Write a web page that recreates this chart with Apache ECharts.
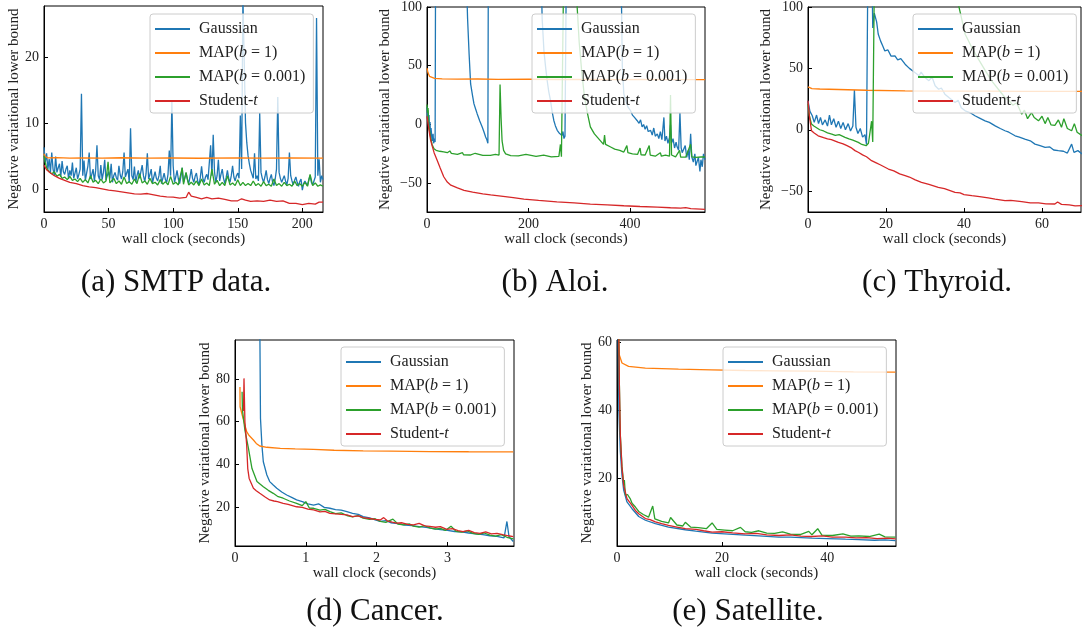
<!DOCTYPE html>
<html><head><meta charset="utf-8">
<script src="https://cdn.jsdelivr.net/npm/echarts@6/dist/echarts.min.js"></script>
<style>html,body{margin:0;padding:0;background:#fff}#c{width:1082px;height:635px}</style>
</head><body><div id="c"></div>
<script>
// ---------- Data ----------
const seriesNames = ['Gaussian', 'MAP(b = 1)', 'MAP(b = 0.001)', 'Student-t'];

// (a) SMTP data
const smtpXTicks = [0, 50, 100, 150, 200];
const smtpYTicks = [0, 10, 20];
const smtpGauss = [[0,6.3],[1,4.0],[2,5.4],[3,3.0],[4,4.5],[5,2.5],[6,5.5],[7,3.0],[8,2.0],[9,4.9],[10,2.5],[11,3.2],[12,3.8],[13,1.8],[14,4.2],[15,2.6],[16,2.2],[17,3.0],[18,3.5],[19,1.5],[20,2.8],[21,2.0],[22,4.0],[23,1.6],[24,2.4],[25,3.2],[26,1.5],[27,2.2],[28,3.0],[29,14.4],[30,2.0],[31,4.3],[32,1.3],[33,2.4],[34,3.5],[35,5.5],[36,1.5],[37,2.2],[38,3.0],[39,1.2],[40,2.8],[41,6.6],[42,2.0],[43,1.4],[44,3.6],[45,1.4],[46,2.5],[47,4.4],[48,1.3],[49,2.0],[50,2.6],[51,1.6],[52,3.8],[53,1.0],[54,2.0],[55,2.5],[56,1.7],[57,1.3],[58,3.5],[59,2.1],[60,1.5],[61,2.6],[62,5.5],[63,1.8],[64,2.4],[65,3.0],[66,1.0],[67,9.2],[68,2.0],[69,1.4],[70,3.4],[71,1.0],[72,2.0],[73,2.8],[74,1.6],[75,1.3],[76,3.6],[77,2.0],[78,1.1],[79,2.3],[80,5.4],[81,1.5],[82,2.2],[83,3.0],[84,0.9],[85,1.8],[86,2.6],[87,1.6],[88,1.2],[89,2.0],[90,3.5],[91,0.8],[92,1.6],[93,2.4],[94,1.4],[95,1.0],[96,2.2],[97,5.8],[98,2.0],[99,13.2],[100,3.5],[101,1.0],[102,1.8],[103,2.8],[104,1.5],[105,0.8],[106,1.9],[107,3.2],[108,1.0],[109,1.7],[110,2.4],[111,1.4],[112,0.8],[113,1.8],[114,3.0],[115,1.6],[116,1.0],[117,1.9],[118,2.4],[119,1.2],[120,0.6],[121,1.7],[122,3.4],[123,1.6],[124,1.0],[125,1.8],[126,2.2],[127,1.4],[128,1.2],[129,6.6],[130,2.0],[131,8.2],[132,2.6],[133,1.0],[134,2.0],[135,4.4],[136,1.2],[137,2.2],[138,3.0],[139,1.6],[140,0.8],[141,1.7],[142,2.8],[143,1.6],[144,1.0],[145,2.0],[146,3.5],[147,1.8],[148,1.2],[149,2.0],[150,2.4],[151,1.6],[152,11.1],[153,3.0],[154,29],[155,29],[156,10],[157,7],[158,5],[159,3.8],[160,2.8],[161,2.2],[162,1.6],[163,5.4],[164,1.5],[165,2.0],[166,1.2],[167,11.5],[168,2.5],[169,1.6],[170,1.0],[171,1.8],[172,2.8],[173,1.4],[174,0.8],[175,1.6],[176,2.2],[177,1.0],[178,0.5],[179,1.5],[180,3.0],[181,13.9],[182,2.5],[183,1.6],[184,1.0],[185,1.5],[186,2.0],[187,1.2],[188,0.6],[189,1.6],[190,5.5],[191,2.0],[192,1.2],[193,0.6],[194,1.3],[195,1.8],[196,1.0],[197,0.4],[198,1.1],[199,1.5],[200,-0.2],[201,0.8],[202,1.2],[203,0.9],[204,0.5],[205,1.4],[206,2.0],[207,1.0],[208,0.6],[209,1.2],[210,1.8],[211,25.9],[212,2.0],[213,4.5],[214,1.0],[215,2.0],[216,1.4]];
const smtpMap1 = [[0,5.3],[1,4.9],[3,4.7],[10,4.75],[20,4.65],[30,4.7],[45,4.65],[60,4.72],[80,4.65],[100,4.68],[120,4.64],[150,4.7],[170,4.65],[190,4.68],[216,4.65]];
const smtpMap001 = [[0,5.0],[1,4.0],[2,3.2],[4,2.6],[6,2.3],[8,2.6],[10,1.9],[12,2.2],[14,1.6],[16,1.8],[18,1.4],[20,1.9],[22,1.3],[24,1.5],[26,1.1],[28,1.6],[30,1.0],[32,1.4],[34,0.9],[36,2.0],[38,1.0],[40,1.3],[42,0.8],[44,1.5],[46,0.9],[48,1.2],[49.6,4.1],[51,0.9],[52,1.0],[54,1.6],[56,0.8],[58,1.2],[60,0.7],[62,1.8],[64,0.8],[66,1.1],[68,0.7],[70,1.5],[72,0.8],[74,2.3],[76,0.9],[78,1.2],[80,0.7],[82,1.6],[84,0.8],[86,1.0],[88,0.6],[90,1.4],[92,0.7],[94,1.1],[96,0.6],[98,1.9],[100,0.7],[102,1.0],[104,0.6],[107,3.2],[108,0.7],[110,2.5],[112,0.6],[114,1.0],[116,0.6],[118,1.2],[120,0.5],[122,1.5],[124,0.6],[126,0.9],[128,0.5],[130,3.0],[132,0.7],[134,1.3],[136,0.5],[138,1.0],[140,0.5],[142,2.0],[144,0.6],[146,0.9],[148,0.5],[150,1.4],[152,0.5],[154,1.0],[156,0.5],[158,0.8],[160,0.5],[162,1.2],[164,0.5],[166,0.8],[168,0.4],[170,1.1],[172,0.5],[174,0.7],[176,0.4],[178,1.5],[180,0.5],[182,0.8],[184,0.4],[186,1.0],[188,0.5],[190,0.7],[192,0.4],[194,1.2],[196,0.5],[198,0.8],[200,0.4],[202,1.0],[204,0.4],[206,2.2],[208,0.5],[210,0.9],[212,0.4],[214,0.6],[216,0.4]];
const smtpStudent = [[0,3.6],[2,2.9],[5,2.4],[8,2.0],[12,1.6],[16,1.3],[20,1.0],[25,0.8],[30,0.5],[35,0.3],[40,0.2],[45,0.0],[50,-0.2],[55,-0.3],[60,-0.45],[65,-0.6],[70,-0.75],[75,-0.8],[80,-0.7],[85,-0.9],[90,-1.1],[95,-1.2],[100,-1.25],[105,-1.4],[110,-1.3],[112,-0.5],[114,-1.1],[118,-1.3],[122,-1.5],[126,-1.3],[130,-1.5],[135,-1.4],[140,-1.6],[145,-1.8],[150,-1.8],[153,-1.5],[156,-1.7],[160,-1.9],[165,-1.8],[170,-1.9],[175,-1.7],[180,-1.9],[185,-1.8],[190,-2.2],[195,-2.2],[200,-2.4],[205,-2.2],[210,-2.3],[213,-2.0],[216,-2.0]];

// (b) Aloi
const aloiXTicks = [0, 200, 400];
const aloiYTicks = [-50, 0, 50, 100];
const aloiGauss = [[0,15],[1,5],[2,12],[3,0],[4,8],[5,-5],[6,2],[7,-10],[8,-3],[10,-14],[12,-8],[13,-16],[15,-12],[16,-15],[17,150],[76,150],[80,90],[83,60],[86,34.5],[90,24],[92.6,17.5],[96,13],[99,9],[104,3],[109,-2.3],[112,-6],[115.6,-10.7],[118,-13],[120,-16],[121,150],[224,150],[227,90],[230.5,62.7],[234,48],[237,37],[240,28],[243.6,20],[247,10],[250,3.4],[253,-1],[256.7,-5],[260,-7],[263,-8],[266,-9.5],[268,-6],[270,-12],[272,-10],[275,150],[382,150],[385,50],[388,26],[392,20],[396,15],[401,11.9],[405,8],[409,6],[414,3.4],[418,1],[421,4],[424,-2],[427,0],[430,-4],[433,-1],[436,-6],[440.8,-5],[444,-9],[447,-3],[450,-10],[454,-8],[457,-12],[460,-6],[463,-13],[467,6],[469,-14],[472,-10],[475,-16],[478,-11],[480,-0.3],[482,-16],[485,-12],[488,-20],[491,-15],[493,-19],[496,-22],[498.6,10],[501,-20],[503,-24],[506,-24.9],[509,-18],[512,-28],[515,-22],[517,-30],[519.7,-8],[522,-27.7],[525,-32],[528,-25],[530,-35],[532.8,-33.3],[535,-28],[538,-40],[540,-30],[542.6,-36],[545,-25],[548,-30]];
const aloiMap1 = [[0,48],[2,44],[5,41],[8,39.8],[15,39.2],[30,38.9],[60,38.6],[100,38.7],[140,38.4],[200,38.5],[260,38.3],[320,38.4],[380,38.2],[440,38.3],[500,38.1],[548,38.2]];
const aloiMap001 = [[0,17],[1,10],[2,14],[3,4],[4,-2],[6,-8],[8,-13],[10,-17],[13.8,-20.6],[18,-22],[25,-22.8],[33,-23.4],[40,-24],[45,-22.5],[48,-24.6],[60,-25.4],[70,-24],[72,-25.8],[85,-26],[95,-24.5],[97,-26.2],[110,-26.3],[125,-26.3],[135,-25.5],[142,-26],[144,34],[146,6],[148,-14],[151,-22],[155,-25],[165,-26.5],[180,-26.8],[195,-25.5],[197,-27],[215,-27.2],[230,-26],[232,-27.5],[245,-27.5],[260,-27.2],[263,-17],[265,-27.5],[268,-27],[270,150],[290,150],[296,100],[300,70],[305,45],[310,25],[316,10],[322,-2],[330,-8],[336,-11],[342,-14],[348,-17],[350,-9],[352,-17],[362,-19.2],[370,-21],[380,-22],[388,-23.5],[394,-18],[396,-24],[405,-25],[415,-25.5],[420,-20],[422,-25.8],[430,-26],[438,-18],[440,-26],[450,-27],[460,-24],[462,-27],[470,-26],[478,-27],[480,25],[482,-26],[490,-27.5],[498,-22],[500,-27.8],[510,-27.8],[519.6,-16.8],[522,-27.5],[530,-28],[540,-27.7],[548,-27.7]];
const aloiStudent = [[0,7],[2,1],[4,-5],[7,-13],[10,-18],[14,-24],[20,-30.5],[26,-37],[33,-44.5],[40,-49],[47,-51.7],[60,-54],[73,-56],[90,-57.6],[110,-59],[125.5,-60],[150,-61.2],[170,-62.3],[191,-63.5],[220,-64.6],[256,-65.8],[290,-66.8],[322,-67.8],[355,-68.5],[388,-69.2],[420,-69.8],[454,-70.3],[480,-70.9],[500,-71.2],[510,-70.8],[520,-71.6],[539,-72],[548,-72.3]];

// (c) Thyroid
const thyXTicks = [0, 20, 40, 60];
const thyYTicks = [-50, 0, 50, 100];
const thyGauss = [[0,23.6],[0.5,15],[1.1,11.4],[1.6,6],[2.2,12],[2.7,5],[3.2,10],[3.7,4],[4.4,8],[5,3],[5.5,12],[6,4],[6.6,9],[7.2,2],[7.8,7],[8.4,1],[9,6],[9.6,0],[10.3,5],[10.9,-1],[11.5,3],[11.9,32.3],[12.3,2],[12.8,-3],[13.4,1],[14,-6],[14.6,-4],[15,-12],[15.4,150],[16.3,150],[16.6,83],[17,95],[17.6,87.9],[18,78],[18.6,72.4],[19.2,68],[19.7,64.2],[20.5,65],[21.3,60],[22.3,60.2],[23,57],[23.8,58],[24.9,53.4],[26,50],[27.4,46.6],[28.5,44],[29,47],[30,42.5],[31,40],[31.8,43],[32.6,35.8],[33.5,33],[34.2,34],[35.1,29],[36.2,26],[37.7,22.2],[38.5,24],[39.3,18],[40.3,15.4],[41.5,14],[42.8,11.4],[44,9.5],[45.4,7.3],[46.5,6],[48,3.2],[49.3,1],[50.5,-0.8],[51.5,-2],[53.1,-4.9],[54.2,-6],[55.6,-7.6],[57,-9],[58.2,-11.7],[59.5,-13],[60.8,-14.4],[62,-14],[63,-16.5],[64.2,-17],[65.5,-17.5],[66.5,-19],[67.6,-11.7],[68.2,-18.4],[69.2,-17],[70.3,-19.8]];
const thyMap1 = [[0,35],[0.5,34],[1,33.5],[3,33.2],[7.8,32.8],[15,32.2],[24.9,31.7],[35,31.5],[45,31.4],[55,31.3],[70.3,31.2]];
const thyMap001 = [[0,21],[0.3,12],[0.9,4.6],[1.5,3],[2,1.9],[3,0],[4,-1],[5,-2.5],[6.1,-3.5],[7,-4.5],[8,-4],[9.5,-6.2],[10.5,-7.5],[11.5,-8.5],[12.9,-10.3],[13.8,-12],[14.9,-13],[15.5,-11],[15.8,-12.5],[16.3,7],[16.6,-10],[17.1,150],[36.8,150],[38,110],[40.3,77.8],[42,67],[43.7,57.5],[45.5,48],[47.1,39.8],[48.8,33],[50.5,26.3],[51.5,24],[52.5,20],[53.5,22],[54.8,12.7],[55.5,16],[56.3,9],[57.3,14],[58,10],[59.1,7.3],[60,11],[60.8,5],[61.5,10],[62.3,4],[63.3,3.5],[64.2,8],[65,2],[65.6,9],[66.5,1],[67.6,-0.8],[68.3,5],[69,-2],[70.3,-4.9]];
const thyStudent = [[0,23.6],[0.4,10],[0.9,-0.8],[1.5,-2.5],[2.6,-4.9],[4,-6.5],[5,-7.5],[6,-8],[7.8,-10.3],[9,-11.5],[10,-13],[11,-14.5],[12.05,-17],[13,-18.5],[14,-20.5],[15,-22],[16.3,-25.2],[17.5,-27],[18.5,-28.5],[20.6,-32],[22,-33.5],[23.5,-36],[24.9,-37.4],[26,-38.5],[27.5,-40.8],[29.1,-42.8],[31,-44.5],[33.4,-46.9],[35,-48],[37.7,-51],[39,-51.5],[40,-52.8],[42,-53.7],[44,-54.5],[46.2,-55.5],[48,-56.5],[50.5,-57.7],[52,-57.5],[54.8,-58.5],[57,-59.5],[59.1,-59.6],[61,-60.3],[63.3,-60.5],[64,-58.8],[65,-60.8],[67,-61.2],[68.5,-62],[70.3,-61.8]];

// (d) Cancer
const canXTicks = [0, 1, 2, 3];
const canYTicks = [20, 40, 60, 80];
const canGauss = [[0.33,200],[0.36,61.5],[0.38,49],[0.4,41.2],[0.45,35],[0.49,31.9],[0.54,30.3],[0.59,28.8],[0.66,27],[0.73,25.6],[0.8,24.5],[0.87,23.3],[0.95,22.5],[1.03,21.5],[1.11,20.9],[1.18,21.5],[1.26,19.8],[1.34,19.4],[1.42,18.8],[1.5,18.5],[1.58,17.8],[1.66,17],[1.74,16.5],[1.81,15.5],[1.9,14.9],[1.98,14],[2.05,13.2],[2.13,13.6],[2.2,12.6],[2.3,12.2],[2.4,11.5],[2.5,11.3],[2.6,10.8],[2.7,10.4],[2.8,9.8],[2.9,9.4],[3.0,9],[3.1,8.5],[3.2,8.3],[3.3,7.8],[3.4,7.4],[3.5,7],[3.6,6.5],[3.7,6.2],[3.8,5.5],[3.84,13.2],[3.87,6],[3.93,3.8]];
const canMap1 = [[0.07,76.3],[0.072,67],[0.1,66.5],[0.11,62],[0.165,55.3],[0.2,53.5],[0.26,51.4],[0.3,49.8],[0.35,48.6],[0.45,48],[0.64,47.5],[0.85,47.2],[1.11,47],[1.4,46.6],[1.81,46.3],[2.2,46.2],[2.75,46],[3.3,45.9],[3.93,45.8]];
const canMap001 = [[0.1,74],[0.105,65.5],[0.14,56],[0.19,47.5],[0.24,38],[0.31,31.9],[0.4,29.5],[0.47,27.8],[0.54,26.4],[0.6,25],[0.68,24.1],[0.77,22.8],[0.87,21.7],[0.95,20.6],[1.0,22.5],[1.05,19.5],[1.11,19.4],[1.2,18.5],[1.27,18.9],[1.34,17.8],[1.42,16.9],[1.5,17.2],[1.58,16],[1.66,15.4],[1.74,15.9],[1.81,14.8],[1.9,14.2],[1.98,14.5],[2.05,13.2],[2.13,12.8],[2.23,14.3],[2.3,12],[2.38,11.6],[2.46,12.1],[2.52,11],[2.6,10.5],[2.68,11.2],[2.75,10.2],[2.83,9.6],[2.9,10],[2.97,9],[3.05,11],[3.12,8.6],[3.2,8.2],[3.28,8.8],[3.36,7.6],[3.44,7.1],[3.52,7.8],[3.6,6.8],[3.68,6.3],[3.76,7],[3.84,5.8],[3.93,5]];
const canStudent = [[0.12,65],[0.127,80.3],[0.14,60],[0.165,49],[0.18,38],[0.2,33.4],[0.26,28.8],[0.3,27.6],[0.35,26.4],[0.42,24.8],[0.49,23.3],[0.55,22.8],[0.6,22.5],[0.68,21.7],[0.75,21.2],[0.87,20.1],[0.95,19.8],[1.03,19],[1.11,18.6],[1.2,17.7],[1.27,17.9],[1.34,17],[1.42,16.8],[1.5,16.5],[1.58,16.3],[1.66,15.5],[1.74,15.8],[1.81,15],[1.9,14.6],[1.98,14.2],[2.05,13.9],[2.1,15],[2.15,13.5],[2.22,12.9],[2.28,12.4],[2.36,12.6],[2.44,11.8],[2.52,11.6],[2.6,12.3],[2.68,11.1],[2.75,10.9],[2.83,10.5],[2.9,10.8],[2.99,9.5],[3.07,9.8],[3.15,8.9],[3.22,8.4],[3.3,9],[3.38,8],[3.46,7.6],[3.54,8.3],[3.62,7.4],[3.7,7.6],[3.78,7],[3.86,6.5],[3.93,6.1]];

// (e) Satellite
const satXTicks = [0, 20, 40];
const satYTicks = [20, 40, 60];
const satGauss = [[0.19,65],[0.35,40],[0.63,28],[0.95,20.9],[1.27,16.5],[1.9,13],[2.86,11],[4.13,8.7],[5.4,7.6],[7.3,6.6],[9.8,5.6],[13,4.8],[15,4.4],[18.1,3.8],[20.5,3.6],[24.4,3.2],[27,3.0],[30.8,2.6],[33,2.6],[37.1,2.3],[40,2.2],[43.5,2.0],[46,1.9],[49,1.7],[51,1.8],[53,1.6]];
const satMap1 = [[0.19,65],[0.44,56.4],[0.95,54],[2.2,53],[5.4,52.5],[11.7,52.2],[18,52],[24.4,51.8],[30,51.7],[37.1,51.6],[45,51.4],[53,51.3]];
const satMap001 = [[0.3,65],[0.45,48],[0.63,33],[0.95,23.5],[1.27,18.5],[1.4,19.5],[1.6,15],[2.0,15.2],[2.5,14],[2.86,12.6],[3.5,11.5],[4.13,10.2],[5.0,9.3],[6.0,8.5],[6.8,11.8],[7.2,8],[8.5,7.3],[9.8,6.8],[10.2,8.4],[11.4,6.2],[12.5,5.9],[13,7],[14,5.6],[15.5,5.4],[17,5.1],[18.1,6.8],[19,4.9],[20.5,4.7],[22,4.5],[23.5,5.5],[24.4,4.2],[25.6,4.0],[27,4.5],[28.5,3.8],[30,3.7],[31.5,4.2],[33,3.5],[35,3.4],[36.5,4.3],[37.1,3.3],[38.2,5.1],[39,3.2],[41,3.1],[43,3.6],[44.5,2.9],[46,3.0],[48,2.8],[49.9,3.5],[51,2.7],[53,2.6]];
const satStudent = [[0.32,65],[0.45,47.6],[0.63,32.7],[0.95,22.9],[1.27,17.9],[1.9,14],[2.86,12],[3.5,10.5],[4.13,9.5],[5.4,8.1],[6.3,7.8],[7.3,7.1],[8.5,6.6],[9.8,6.1],[11.4,5.6],[13,5.1],[15,4.9],[16.5,4.5],[18.1,4.1],[20,4.2],[22,3.9],[24.4,3.6],[26.5,3.7],[28.5,3.3],[30.8,3.1],[33,3.3],[35,2.9],[37.1,2.8],[39,3.0],[41,2.6],[43.5,2.6],[45.5,2.4],[47.5,2.5],[49.5,2.2],[51.5,2.3],[53,2.1]];

const captions = ['(a) SMTP data.', '(b) Aloi.', '(c) Thyroid.', '(d) Cancer.', '(e) Satellite.'];

// ---------- Layout ----------
const colors = ['#1f77b4', '#ff7f0e', '#2ca02c', '#d62728'];
const FONT = '"Liberation Serif", "Times New Roman", serif';
const panels = [
  {grid:{left:44, top:6, width:279, height:206}, x:[0,216], y:[-3.5,27.7], xt:smtpXTicks, yt:smtpYTicks, data:[smtpGauss,smtpMap1,smtpMap001,smtpStudent], lg:{left:150, top:14}, yGap:21, cap:[176,283]},
  {grid:{left:427, top:6, width:278, height:206}, x:[0,548], y:[-74.5,100], xt:aloiXTicks, yt:aloiYTicks, data:[aloiGauss,aloiMap1,aloiMap001,aloiStudent], lg:{left:532, top:14}, yGap:34, cap:[555,283]},
  {grid:{left:808, top:6, width:273, height:206}, x:[0,70], y:[-67,100], xt:thyXTicks, yt:thyYTicks, data:[thyGauss,thyMap1,thyMap001,thyStudent], lg:{left:913, top:14}, yGap:34, cap:[937,283]},
  {grid:{left:235, top:340, width:279, height:206}, x:[0,3.94], y:[1.7,98.3], xt:canXTicks, yt:canYTicks, data:[canGauss,canMap1,canMap001,canStudent], lg:{left:341, top:347}, yGap:21, cap:[375,612]},
  {grid:{left:617, top:340, width:279, height:206}, x:[0,53.1], y:[0,60.8], xt:satXTicks, yt:satYTicks, data:[satGauss,satMap1,satMap001,satStudent], lg:{left:723, top:347}, yGap:22, cap:[748,612]}
];

const minusFmt = v => String(v).replace('-', '\u2212');
const legendFmt = name => {
  if (name === 'MAP(b = 1)') return '{n|MAP(}{i|b}{n| = 1)}';
  if (name === 'MAP(b = 0.001)') return '{n|MAP(}{i|b}{n| = 0.001)}';
  if (name === 'Student-t') return '{n|Student-}{i|t}';
  return '{n|' + name + '}';
};
const richTxt = {
  n: {fontFamily: FONT, fontSize: 16, color: '#222', lineHeight: 18},
  i: {fontFamily: FONT, fontSize: 16, color: '#222', lineHeight: 18, fontStyle: 'italic'}
};

const option = {
  animation: false,
  backgroundColor: '#fff',
  grid: [], xAxis: [], yAxis: [], series: [], legend: [], graphic: []
};

panels.forEach((p, k) => {
  option.grid.push(Object.assign({show: true, borderColor: '#000', borderWidth: 1, backgroundColor: 'transparent'}, p.grid));
  option.xAxis.push({
    gridIndex: k, type: 'value', min: p.x[0], max: p.x[1],
    axisLine: {show: true, onZero: false, lineStyle: {color: '#000', width: 1}},
    axisTick: {show: true, inside: true, length: 4, lineStyle: {color: '#000'}, customValues: p.xt},
    axisLabel: {customValues: p.xt, margin: 5, color: '#222', fontFamily: FONT, fontSize: 14, formatter: minusFmt},
    splitLine: {show: false},
    name: 'wall clock (seconds)', nameLocation: 'middle', nameGap: 20,
    nameTextStyle: {fontFamily: FONT, fontSize: 15, color: '#222'}
  });
  option.yAxis.push({
    gridIndex: k, type: 'value', min: p.y[0], max: p.y[1],
    axisLine: {show: true, onZero: false, lineStyle: {color: '#000', width: 1}},
    axisTick: {show: true, inside: true, length: 4, lineStyle: {color: '#000'}, customValues: p.yt},
    axisLabel: {customValues: p.yt, margin: 5, color: '#222', fontFamily: FONT, fontSize: 14, formatter: minusFmt},
    splitLine: {show: false},
    name: 'Negative variational lower bound', nameLocation: 'middle', nameGap: p.yGap, nameRotate: 90,
    nameTextStyle: {fontFamily: FONT, fontSize: 15, color: '#222'}
  });
  seriesNames.forEach((nm, j) => {
    option.series.push({
      type: 'line', name: nm, xAxisIndex: k, yAxisIndex: k, data: p.data[j],
      showSymbol: false, symbol: 'none', clip: true,
      lineStyle: {color: colors[j], width: 1.3}, itemStyle: {color: colors[j]},
      z: 2 + j
    });
  });
  option.legend.push({
    orient: 'vertical', left: p.lg.left, top: p.lg.top, data: seriesNames,
    icon: 'rect', itemWidth: 35, itemHeight: 2, itemGap: 8,
    padding: [7, 8, 4, 5],
    backgroundColor: 'rgba(255,255,255,0.8)', borderColor: '#ccc', borderWidth: 1, borderRadius: 3,
    formatter: legendFmt, textStyle: {rich: richTxt, padding: [0, 0, 0, 4]},
    selectedMode: false, z: 10
  });
  option.graphic.push({
    type: 'text', x: p.cap[0], y: p.cap[1], z: 20,
    style: {text: captions[k], font: '31px "Liberation Serif"', fill: '#111', align: 'center', verticalAlign: 'middle'}
  });
});

const chart = echarts.init(document.getElementById('c'), null, {renderer: 'canvas'});
chart.setOption(option);
</script>
</body></html>
